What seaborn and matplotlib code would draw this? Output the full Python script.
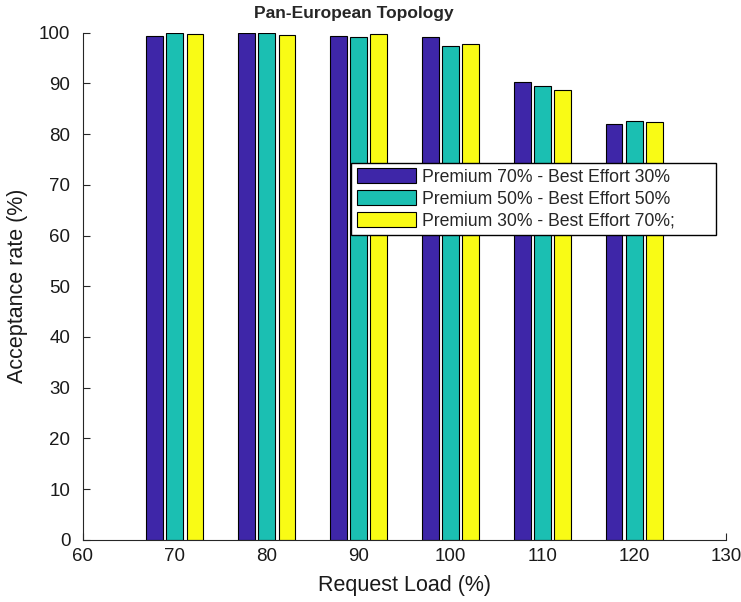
import pandas as pd
import matplotlib.pyplot as plt
import seaborn as sns

# values
loads = [70, 80, 90, 100, 110, 120]
series = ['Premium 70% - Best Effort 30%',
          'Premium 50% - Best Effort 50%',
          'Premium 30% - Best Effort 70%;']
p70 = [99.4, 100.0, 99.3, 99.1, 90.2, 81.9]
p50 = [100.0, 99.9, 99.2, 97.4, 89.4, 82.5]
p30 = [99.7, 99.6, 99.8, 97.7, 88.6, 82.3]

colors = ['#3E26A8', '#1BBFB2', '#F9FB15']

df = pd.DataFrame({
    'load': loads * 3,
    'rate': p70 + p50 + p30,
    'mix': [series[0]] * 6 + [series[1]] * 6 + [series[2]] * 6,
})

sns.set_style('white')
plt.rcParams['font.family'] = ['Liberation Sans', 'DejaVu Sans']

fig = plt.figure(figsize=(7.41, 6.02), dpi=100)
ax = fig.add_axes([0.112, 0.103, 0.868, 0.843])

sns.barplot(data=df, x='load', y='rate', hue='mix', hue_order=series,
            palette=colors, native_scale=True, width=0.66, gap=0.17,
            edgecolor='black', linewidth=0.8, saturation=1, ax=ax)

ax.set_xlim(60, 130)
ax.set_ylim(0, 100)
ax.set_xticks(range(60, 131, 10))
ax.set_yticks(range(0, 101, 10))
ax.tick_params(direction='in', length=5, width=0.8, colors='#262626',
               labelsize=13.5, labelcolor='#1a1a1a', left=True, bottom=True)
ax.tick_params(axis='y', pad=9)
ax.tick_params(axis='x', pad=6)
for s in ['top', 'right']:
    ax.spines[s].set_visible(False)
for s in ['left', 'bottom']:
    ax.spines[s].set_color('#262626')
    ax.spines[s].set_linewidth(0.8)

ax.set_xlabel('Request Load (%)', fontsize=15.5, color='#1a1a1a')
ax.set_ylabel('Acceptance rate (%)', fontsize=15.5, color='#1a1a1a')
ax.xaxis.set_label_coords(0.5, -0.068)
ax.yaxis.set_label_coords(-0.085, 0.5)
fig.text(0.478, 0.978, 'Pan-European Topology', fontsize=12.5,
         fontweight='bold', ha='center', va='center')

ax.legend(loc='upper left', bbox_to_anchor=(0.474, 0.609, 0.492, 0.121),
          bbox_transform=fig.transFigure, mode='expand', fontsize=12.7,
          frameon=True, fancybox=False, edgecolor='black', framealpha=1,
          handlelength=3.4, handleheight=0.95, borderaxespad=0,
          borderpad=0.3, labelspacing=0.25, handletextpad=0.3)

fig.savefig('out.png', dpi=100)
